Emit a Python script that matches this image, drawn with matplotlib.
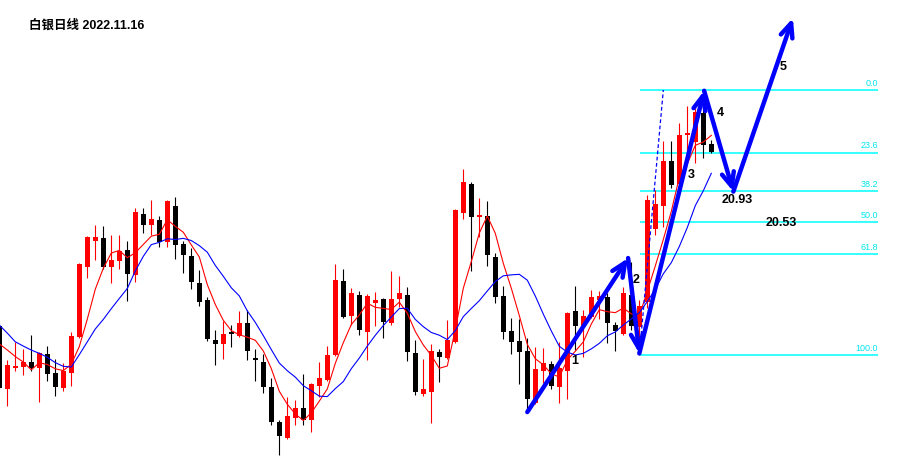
import numpy as np
import pandas as pd
import matplotlib
matplotlib.use("Agg")
import matplotlib.pyplot as plt

# silver daily candles, last one is 2022.11.16 (index -1 is cut by the left edge)
opens = [19.21, 18.40, 18.67, 18.69, 18.75, 18.67, 18.85, 18.61, 18.42, 18.61,
         19.07, 19.97, 20.30, 20.34, 19.97, 20.04, 20.18, 19.86, 20.64, 20.50,
         20.57, 20.29, 20.75, 20.26, 20.11, 19.76, 19.54, 19.03, 18.98, 19.13,
         19.08, 19.25, 18.80, 18.75, 18.43, 17.98, 17.78, 18.03, 18.16, 18.01,
         18.44, 18.52, 18.84, 19.79, 19.34, 19.61, 19.13, 19.50, 19.56, 19.25,
         19.56, 19.61, 18.87, 18.34, 18.37, 18.88, 18.80, 19.01, 20.66, 21.03,
         20.60, 20.62, 20.09, 19.59, 19.15, 19.02, 18.89, 18.23, 18.63, 18.72,
         18.43, 18.63, 19.40, 19.21, 19.33, 19.54, 19.58, 19.22, 19.11, 19.61,
         19.20, 19.52, 20.45, 20.75, 21.32, 21.03, 21.65, 21.56, 21.94, 21.54]
highs = [19.26, 18.78, 19.01, 18.92, 19.10, 18.88, 18.95, 18.79, 18.74, 19.13,
         20.02, 20.36, 20.50, 20.49, 20.37, 20.37, 20.30, 20.72, 20.72, 20.82,
         20.62, 20.82, 20.86, 20.30, 20.21, 19.93, 19.58, 19.16, 19.27, 19.22,
         19.40, 19.42, 18.92, 18.85, 18.55, 18.01, 18.30, 18.26, 18.60, 18.48,
         18.75, 18.95, 20.00, 19.94, 19.70, 19.66, 19.62, 19.65, 19.57, 19.91,
         19.85, 19.71, 19.03, 18.79, 18.98, 18.92, 19.29, 20.71, 21.22, 21.05,
         20.85, 20.81, 20.14, 19.72, 19.31, 19.30, 19.06, 18.94, 18.93, 18.76,
         19.01, 19.39, 19.72, 19.42, 19.67, 19.66, 19.63, 19.26, 19.71, 20.03,
         19.54, 20.89, 20.95, 21.58, 21.58, 21.81, 22.02, 22.05, 22.23, 21.59]
lows = [18.39, 18.19, 18.63, 18.58, 18.63, 18.24, 18.51, 18.32, 18.38, 18.44,
        19.06, 19.82, 20.05, 19.94, 19.76, 19.94, 19.53, 19.77, 20.40, 20.37,
        20.22, 20.22, 20.07, 19.89, 19.68, 19.47, 19.02, 18.71, 18.79, 18.94,
        19.07, 18.78, 18.51, 18.35, 17.94, 17.56, 17.77, 17.94, 17.94, 17.85,
        18.30, 18.51, 18.83, 19.31, 19.22, 19.10, 18.78, 19.21, 19.06, 19.22,
        19.45, 18.76, 18.33, 18.32, 17.97, 18.49, 18.79, 18.99, 20.58, 19.91,
        20.35, 19.98, 19.50, 19.04, 18.85, 18.47, 18.11, 18.21, 18.48, 18.40,
        18.23, 18.28, 18.90, 18.81, 19.31, 19.30, 18.99, 18.89, 19.10, 19.16,
        18.84, 19.44, 20.37, 20.48, 20.98, 20.99, 21.33, 21.30, 21.36, 21.42]
closes = [18.42, 18.71, 18.70, 18.75, 18.67, 18.87, 18.60, 18.43, 18.63, 19.08,
          20.00, 20.35, 20.35, 19.97, 20.05, 20.17, 19.88, 20.67, 20.50, 20.58,
          20.29, 20.81, 20.25, 20.12, 19.77, 19.52, 19.04, 18.98, 19.11, 19.11,
          19.25, 18.89, 18.78, 18.43, 17.98, 17.80, 18.06, 18.16, 18.01, 18.47,
          18.55, 18.84, 19.80, 19.33, 19.63, 19.16, 19.59, 19.54, 19.26, 19.56,
          19.63, 18.88, 18.37, 18.40, 18.89, 18.81, 19.03, 20.69, 21.05, 20.60,
          20.63, 20.12, 19.58, 19.13, 19.01, 18.88, 18.28, 18.66, 18.74, 18.44,
          18.67, 19.38, 19.21, 19.34, 19.58, 19.59, 19.25, 19.15, 19.63, 19.21,
          19.47, 20.82, 20.77, 21.32, 21.01, 21.65, 21.68, 21.95, 21.53, 21.44]
# closes of the days before the window, only needed for the averages
prior_closes = [19.74, 19.81, 19.30, 19.18, 19.29, 19.10, 19.12, 19.10, 19.17]

# fibonacci retracement of the last up leg
fib_high = 22.23
fib_low = 18.84
fib_levels = [0.0, 23.6, 38.2, 50.0, 61.8, 100.0]
fib_start, fib_end = 79.1, 108.8

# wave count drawn by hand: (candle index, price)
wave_points = [(65.0, 18.11), (77.6, 20.08), (79.0, 18.86), (87.1, 22.22),
               (90.75, 20.93), (98.2, 23.15)]
wave_labels = ["1", "2", "3", "4", "5"]
wave_label_pos = [(70.96, 18.76), (78.65, 19.80), (85.5, 21.14), (89.1, 21.94), (96.96, 22.52)]
targets = [("20.93", 91.3, 20.82), ("20.53", 96.7, 20.53)]
channel_line = [(79.09, 18.94), (82.0, 22.23)]

x = np.arange(-1, len(closes) - 1)
o = np.array(opens)
c = np.array(closes)
up = c >= o
col = np.where(up, "#ff0000", "#000000")

fig = plt.figure(figsize=(9.21, 4.61), dpi=100)
ax = fig.add_axes([0, 0, 1, 1])
ax.axis("off")
ax.set_xlim(-0.9125, 114.21)
ax.set_ylim(17.484, 23.381)

# candles
ax.vlines(x, lows, highs, colors=col, lw=0.8, zorder=2)
body = np.maximum(np.abs(c - o), 0.015)
ax.bar(x, body, bottom=np.minimum(o, c), width=0.625, color=col, linewidth=0, zorder=3)

# moving averages 5 and 10
allc = pd.Series(prior_closes + closes)
xa = np.arange(-1 - len(prior_closes), len(closes) - 1)
ma5 = allc.rolling(5).mean()
ma10 = allc.rolling(10).mean()
ax.plot(xa, ma5, color="#ff0000", lw=0.8, zorder=4)
ax.plot(xa, ma10, color="#0000ff", lw=0.8, zorder=4)

# fibo levels
for lvl in fib_levels:
    p = fib_high - lvl / 100 * (fib_high - fib_low)
    ax.hlines(p, fib_start, fib_end, color="#00ffff", lw=1.1, zorder=1)
    ax.annotate(f"{lvl:.1f}", (fib_end, p), xytext=(0, 1.5), textcoords="offset points",
                ha="right", va="bottom", fontsize=6.5, color="#00e5ee",
                family="Liberation Sans")

# dashed channel line
ax.plot([p[0] for p in channel_line], [p[1] for p in channel_line],
        color="#0000ff", lw=0.9, ls=(0, (3, 2)), zorder=4)

# wave arrows
for a, b in zip(wave_points[:-1], wave_points[1:]):
    ax.annotate("", xy=b, xytext=a,
                arrowprops=dict(arrowstyle="->,head_length=0.5,head_width=0.22",
                                color="#0000ff", lw=3.2, shrinkA=0, shrinkB=0,
                                mutation_scale=20), zorder=6)

for lab, (xx, yy) in zip(wave_labels, wave_label_pos):
    ax.text(xx, yy, lab, ha="center", va="center", fontsize=9, fontweight="bold",
            family="Liberation Sans", color="black", zorder=7)
for lab, xx, yy in targets:
    ax.text(xx, yy, lab, ha="center", va="center", fontsize=9, fontweight="bold",
            family="Liberation Sans", color="black", zorder=7)

ax.text(29 / 921, 1 - 26 / 461, "白银日线 2022.11.16", transform=ax.transAxes,
        ha="left", va="center", fontsize=9, fontweight="bold",
        family=["Liberation Sans", "Noto Sans CJK SC"])

fig.savefig("out.png", dpi=100)
plt.close()
